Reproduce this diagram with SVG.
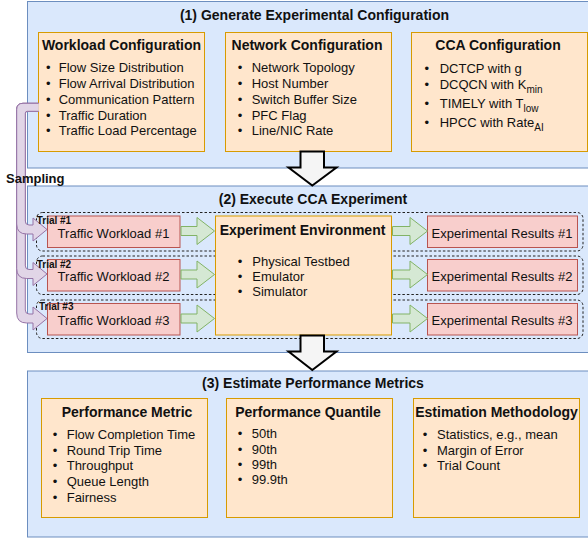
<svg xmlns="http://www.w3.org/2000/svg" width="588" height="539" viewBox="0 0 588 539">
<style>
text{font-family:"Liberation Sans",Arial,Helvetica,sans-serif;fill:#111;}
.panel{fill:#dae8fc;stroke:#6c8ebf;stroke-width:1;}
.orange{fill:#ffe6cc;stroke:#d79b00;stroke-width:1;}
.red{fill:#f8cecc;stroke:#b85450;stroke-width:1;}
.trial{fill:none;stroke:#222;stroke-width:1;stroke-dasharray:2.5,2;}
.green{fill:#d5e8d4;stroke:#82b366;stroke-width:1;}
.purple{fill:#e1d5e7;stroke:#9673a6;stroke-width:1;}
.big{fill:#f5f5f5;stroke:#000;stroke-width:2;}
.ptitle{font-size:14px;font-weight:bold;text-anchor:middle;}
.btitle{font-size:14px;font-weight:bold;text-anchor:middle;}
.item{font-size:13px;}
.bul{font-size:13px;text-anchor:middle;}
.lbl{font-size:13px;text-anchor:middle;}
.trl{font-size:10px;font-weight:bold;}
.sub{font-size:10px;}
</style>

<g id="panel1">
<rect class="panel" x="27.5" y="1.5" width="575" height="166.5"/>
<text class="ptitle" x="314.5" y="20">(1) Generate Experimental Configuration</text>
</g>
<g id="panel2">
<rect class="panel" x="27.5" y="186" width="575" height="166.5"/>
<text class="ptitle" x="313" y="204">(2) Execute CCA Experiment</text>
</g>
<g id="panel3">
<rect class="panel" x="27.5" y="371" width="575" height="166"/>
<text class="ptitle" x="313" y="388">(3) Estimate Performance Metrics</text>
</g>

<g id="workload-config">
<rect class="orange" x="38.5" y="32.5" width="166" height="119"/>
<text class="btitle" x="121.5" y="50">Workload Configuration</text>
<text class="bul" x="48.3" y="72">•</text><text class="item" x="58.7" y="72">Flow Size Distribution</text>
<text class="bul" x="48.3" y="87.5">•</text><text class="item" x="58.7" y="87.5">Flow Arrival Distribution</text>
<text class="bul" x="48.3" y="103.5">•</text><text class="item" x="58.7" y="103.5">Communication Pattern</text>
<text class="bul" x="48.3" y="119.5">•</text><text class="item" x="58.7" y="119.5">Traffic Duration</text>
<text class="bul" x="48.3" y="135">•</text><text class="item" x="58.7" y="135">Traffic Load Percentage</text>
</g>

<g id="network-config">
<rect class="orange" x="225.5" y="32.5" width="166" height="119"/>
<text class="btitle" x="307" y="50">Network Configuration</text>
<text class="bul" x="240" y="72">•</text><text class="item" x="251.7" y="72">Network Topology</text>
<text class="bul" x="240" y="87.5">•</text><text class="item" x="251.7" y="87.5">Host Number</text>
<text class="bul" x="240" y="103.5">•</text><text class="item" x="251.7" y="103.5">Switch Buffer Size</text>
<text class="bul" x="240" y="119.5">•</text><text class="item" x="251.7" y="119.5">PFC Flag</text>
<text class="bul" x="240" y="135">•</text><text class="item" x="251.7" y="135">Line/NIC Rate</text>
</g>

<g id="cca-config">
<rect class="orange" x="411.5" y="32.5" width="176" height="119"/>
<text class="btitle" x="498" y="50">CCA Configuration</text>
<text class="bul" x="426.7" y="73">•</text><text class="item" x="439.7" y="73">DCTCP with g</text>
<text class="bul" x="426.7" y="88.5">•</text><text class="item" x="439.7" y="88.5">DCQCN with K<tspan class="sub" dy="4">min</tspan></text>
<text class="bul" x="426.7" y="108">•</text><text class="item" x="439.7" y="108">TIMELY with T<tspan class="sub" dy="4">low</tspan></text>
<text class="bul" x="426.7" y="126.5">•</text><text class="item" x="439.7" y="126.5">HPCC with Rate<tspan class="sub" dy="4">AI</tspan></text>
</g>

<g id="trial-containers">
<rect class="trial" x="36.5" y="212.5" width="546.5" height="38.5" rx="6"/>
<rect class="trial" x="36.5" y="256" width="546.5" height="38.5" rx="6"/>
<rect class="trial" x="36.5" y="300" width="546.5" height="38.5" rx="6"/>
</g>

<g id="workload1">
<rect class="red" x="47.5" y="216" width="132.5" height="31.5"/>
<text class="lbl" x="113.5" y="237.5">Traffic Workload #1</text>
</g>
<g id="workload2">
<rect class="red" x="47.5" y="259.5" width="132.5" height="31.5"/>
<text class="lbl" x="113.5" y="281">Traffic Workload #2</text>
</g>
<g id="workload3">
<rect class="red" x="47.5" y="303.5" width="132.5" height="31.5"/>
<text class="lbl" x="113.5" y="325">Traffic Workload #3</text>
</g>

<g id="environment">
<rect class="orange" x="215.5" y="216" width="176" height="119"/>
<text class="btitle" x="302.5" y="235">Experiment Environment</text>
<text class="bul" x="240" y="265.5">•</text><text class="item" x="252.3" y="265.5">Physical Testbed</text>
<text class="bul" x="240" y="280.5">•</text><text class="item" x="252.3" y="280.5">Emulator</text>
<text class="bul" x="240" y="296">•</text><text class="item" x="252.3" y="296">Simulator</text>
</g>

<g id="results1">
<rect class="red" x="427.5" y="216" width="150" height="31.5"/>
<text class="lbl" x="502" y="237.5">Experimental Results #1</text>
</g>
<g id="results2">
<rect class="red" x="427.5" y="259.5" width="150" height="31.5"/>
<text class="lbl" x="502" y="281">Experimental Results #2</text>
</g>
<g id="results3">
<rect class="red" x="427.5" y="303.5" width="150" height="31.5"/>
<text class="lbl" x="502" y="325">Experimental Results #3</text>
</g>

<g id="metric">
<rect class="orange" x="41.5" y="398.5" width="166" height="119"/>
<text class="btitle" x="127" y="417">Performance Metric</text>
<text class="bul" x="55" y="439">•</text><text class="item" x="66.7" y="439">Flow Completion Time</text>
<text class="bul" x="55" y="454.5">•</text><text class="item" x="66.7" y="454.5">Round Trip Time</text>
<text class="bul" x="55" y="470">•</text><text class="item" x="66.7" y="470">Throughput</text>
<text class="bul" x="55" y="486">•</text><text class="item" x="66.7" y="486">Queue Length</text>
<text class="bul" x="55" y="501.5">•</text><text class="item" x="66.7" y="501.5">Fairness</text>
</g>

<g id="quantile">
<rect class="orange" x="226.5" y="398.5" width="166" height="119"/>
<text class="btitle" x="308" y="417">Performance Quantile</text>
<text class="bul" x="240" y="437.5">•</text><text class="item" x="251.7" y="437.5">50th</text>
<text class="bul" x="240" y="453.5">•</text><text class="item" x="251.7" y="453.5">90th</text>
<text class="bul" x="240" y="468.5">•</text><text class="item" x="251.7" y="468.5">99th</text>
<text class="bul" x="240" y="484">•</text><text class="item" x="251.7" y="484">99.9th</text>
</g>

<g id="methodology">
<rect class="orange" x="413.5" y="398.5" width="166" height="119"/>
<text class="btitle" x="496.5" y="417">Estimation Methodology</text>
<text class="bul" x="425" y="439">•</text><text class="item" x="437" y="439">Statistics, e.g., mean</text>
<text class="bul" x="425" y="454.5">•</text><text class="item" x="437" y="454.5">Margin of Error</text>
<text class="bul" x="425" y="470">•</text><text class="item" x="437" y="470">Trial Count</text>
</g>

<g id="connectors">
<path class="purple" d="M38.5,103.3 H23 Q16.7,103.3 16.7,109.6 V313 Q16.7,323 26.7,323 H33 V330 L47,318.5 L33,307 V314 H29 Q25.3,314 25.3,310 V113.3 Q25.3,111.3 27.3,111.3 H38.5"/>
<path class="purple" d="M38.5,103.3 H23 Q16.7,103.3 16.7,109.6 V268.5 Q16.7,278.5 26.7,278.5 H33 V285.5 L47,274 L33,262.5 V269.5 H29 Q25.3,269.5 25.3,265.5 V113.3 Q25.3,111.3 27.3,111.3 H38.5"/>
<path class="purple" d="M38.5,103.3 H23 Q16.7,103.3 16.7,109.6 V224 Q16.7,234 26.7,234 H33 V241 L47,229.5 L33,218 V225 H29 Q25.3,225 25.3,221 V113.3 Q25.3,111.3 27.3,111.3 H38.5"/>
<path class="green" d="M181,226.5 H197 V217.5 L214.5,231 L197,244.5 V235.5 H181 Z"/>
<path class="green" d="M181,270 H197 V261 L214.5,274.5 L197,288 V279 H181 Z"/>
<path class="green" d="M181,314 H197 V305 L214.5,318.5 L197,332 V323 H181 Z"/>
<path class="green" d="M392.5,226.5 H410 V217.5 L427.5,231 L410,244.5 V235.5 H392.5 Z"/>
<path class="green" d="M392.5,270 H410 V261 L427.5,274.5 L410,288 V279 H392.5 Z"/>
<path class="green" d="M392.5,314 H410 V305 L427.5,318.5 L410,332 V323 H392.5 Z"/>
<path class="big" d="M300.5,151.5 H324 V167.5 H336.5 L312.3,185.5 L288.5,167.5 H300.5 Z"/>
<path class="big" d="M300.5,335.5 H324 V351.5 H336.5 L312.3,370 L288.5,351.5 H300.5 Z"/>
</g>

<g id="labels">
<text font-size="13" font-weight="bold" x="6" y="183">Sampling</text>
<text class="trl" x="36.7" y="223.5">Trial #1</text>
<text class="trl" x="36.7" y="268">Trial #2</text>
<text class="trl" x="39" y="310">Trial #3</text>
</g>
</svg>
